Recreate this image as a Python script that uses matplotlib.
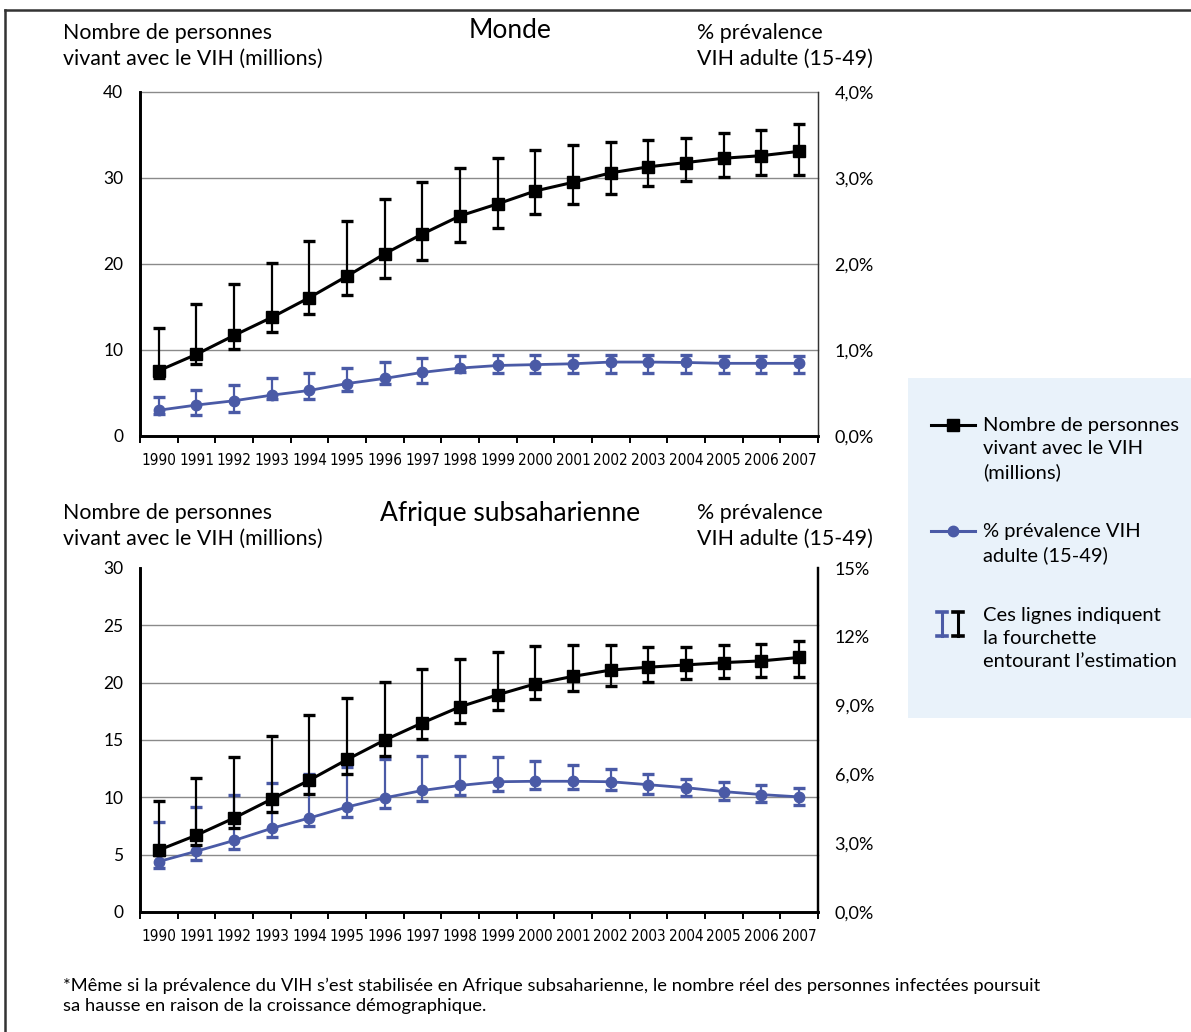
import matplotlib
matplotlib.use("Agg")
import matplotlib.pyplot as plt
from matplotlib.lines import Line2D
from matplotlib.patches import Rectangle
from matplotlib.transforms import blended_transform_factory
from matplotlib import font_manager as fm

# ---------------- data ----------------
years = ['1990', '1991', '1992', '1993', '1994', '1995', '1996', '1997', '1998',
         '1999', '2000', '2001', '2002', '2003', '2004', '2005', '2006', '2007']

world_hiv = [7.6, 9.5, 11.7, 13.8, 16.1, 18.6, 21.2, 23.5, 25.6, 27.0, 28.5, 29.5,
             30.6, 31.3, 31.8, 32.3, 32.6, 33.1]
world_hiv_low = [6.7, 8.4, 10.1, 12.1, 14.2, 16.4, 18.4, 20.5, 22.5, 24.2, 25.8, 27.0,
                 28.1, 29.1, 29.6, 30.1, 30.3, 30.4]
world_hiv_high = [12.6, 15.3, 17.7, 20.1, 22.7, 25.0, 27.5, 29.5, 31.2, 32.3, 33.2, 33.8,
                  34.2, 34.4, 34.7, 35.2, 35.6, 36.3]

world_prev = [0.30, 0.36, 0.41, 0.475, 0.53, 0.61, 0.67, 0.74, 0.79, 0.82, 0.83, 0.84,
              0.86, 0.86, 0.855, 0.845, 0.845, 0.845]
world_prev_low = [0.26, 0.25, 0.28, 0.43, 0.435, 0.525, 0.61, 0.62, 0.74, 0.73, 0.73, 0.73,
                  0.73, 0.73, 0.73, 0.73, 0.73, 0.73]
world_prev_high = [0.455, 0.535, 0.595, 0.67, 0.73, 0.79, 0.855, 0.905, 0.93, 0.945, 0.945,
                   0.945, 0.945, 0.94, 0.94, 0.935, 0.935, 0.935]

af_hiv = [5.4, 6.7, 8.2, 9.85, 11.5, 13.3, 15.0, 16.5, 17.9, 18.95, 19.9, 20.55, 21.1,
          21.35, 21.55, 21.75, 21.9, 22.2]
af_hiv_low = [4.95, 5.8, 7.3, 8.7, 10.3, 12.0, 13.6, 15.05, 16.5, 17.6, 18.55, 19.25, 19.7,
              20.05, 20.3, 20.4, 20.5, 20.5]
af_hiv_high = [9.65, 11.7, 13.5, 15.35, 17.15, 18.7, 20.05, 21.2, 22.1, 22.7, 23.2, 23.25,
               23.25, 23.1, 23.1, 23.25, 23.4, 23.6]

af_prev = [2.2, 2.65, 3.12, 3.65, 4.1, 4.58, 4.98, 5.3, 5.52, 5.68, 5.7, 5.7, 5.68, 5.55,
           5.42, 5.25, 5.12, 5.02]
af_prev_low = [1.9, 2.28, 2.75, 3.25, 3.75, 4.15, 4.55, 4.85, 5.1, 5.28, 5.35, 5.35, 5.3,
               5.15, 5.05, 4.9, 4.78, 4.65]
af_prev_high = [3.92, 4.6, 5.1, 5.62, 6.02, 6.32, 6.65, 6.8, 6.8, 6.75, 6.58, 6.42, 6.22,
                6.0, 5.8, 5.68, 5.52, 5.42]

world_left_ticks = [0, 10, 20, 30, 40]
world_right_ticks = [0, 1, 2, 3, 4]
world_right_labels = ['0,0%', '1,0%', '2,0%', '3,0%', '4,0%']
af_left_ticks = [0, 5, 10, 15, 20, 25, 30]
af_right_ticks = [0, 3, 6, 9, 12, 15]
af_right_labels = ['0,0%', '3,0%', '6,0%', '9,0%', '12%', '15%']

title_world = 'Monde'
title_africa = 'Afrique subsaharienne'
left_header = 'Nombre de personnes\nvivant avec le VIH (millions)'
right_header = '% prévalence\nVIH adulte (15-49)'
legend_hiv = 'Nombre de personnes\nvivant avec le VIH\n(millions)'
legend_prev = '% prévalence VIH\nadulte (15-49)'
legend_range = 'Ces lignes indiquent\nla fourchette\nentourant l\u2019estimation'
footnote = ('*Même si la prévalence du VIH s\u2019est stabilisée en Afrique subsaharienne, '
            'le nombre réel des personnes infectées poursuit\n'
            'sa hausse en raison de la croissance démographique.')

# ---------------- style ----------------
BLACK = '#000000'
BLUE = '#4a5aa6'
GRID = '#8a8a8a'
MAIN_FONT = ['Lato', 'DejaVu Sans']
plt.rcParams['font.family'] = MAIN_FONT

_entries = fm.fontManager.ttflist
_names = {f.name for f in _entries}
if 'Liberation Sans Narrow' in _names:
    XT_FONT = fm.FontProperties(family='Liberation Sans Narrow', size=12.5)
elif any(f.name == 'DejaVu Sans' and str(f.stretch) in ('condensed', 'semi-condensed')
         for f in _entries):
    XT_FONT = fm.FontProperties(family='DejaVu Sans', stretch='condensed', size=11)
else:
    XT_FONT = fm.FontProperties(family='Lato', size=11)

W, H = 1191, 1032
fig = plt.figure(figsize=(W / 100, H / 100), dpi=100)


def fx(px):
    return px / W


def fy(py):
    return 1 - py / H


def make_panel(top_px, hiv, lo, hi, prev, plo, phi, lticks, rticks, rlabels,
               top_line, right_color, right_lw):
    left, right, bottom = 140, 818, top_px + 344
    ax = fig.add_axes([fx(left), fy(bottom), fx(right - left), 344 / H])
    ax2 = ax.twinx()
    ax.set_zorder(ax2.get_zorder() + 1)
    ax.patch.set_visible(False)

    x = list(range(len(years)))
    ax.set_xlim(-0.5, len(years) - 0.5)
    ax.set_ylim(lticks[0], lticks[-1])
    ax2.set_ylim(rticks[0], rticks[-1])

    # horizontal grid following the left axis ticks, drawn below both series
    gtrans = blended_transform_factory(ax2.transAxes, ax.transData)
    for t in lticks[1:]:
        if t == lticks[-1] and not top_line:
            continue
        ax2.plot([0, 1], [t, t], color=GRID, lw=1.0, transform=gtrans, zorder=0,
                 clip_on=False)

    ax2.errorbar(x, prev, yerr=[[p - l for p, l in zip(prev, plo)],
                                [h - p for p, h in zip(prev, phi)]],
                 color=BLUE, lw=2.0, marker='o', ms=7.5, ecolor=BLUE,
                 elinewidth=1.6, capsize=4.2, capthick=2.4, zorder=3)
    ax.errorbar(x, hiv, yerr=[[v - l for v, l in zip(hiv, lo)],
                              [h - v for v, h in zip(hiv, hi)]],
                color=BLACK, lw=2.2, marker='s', ms=8.5, ecolor=BLACK,
                elinewidth=1.6, capsize=4.2, capthick=2.4, zorder=3)

    # x axis: boundaries as ticks, labels centred
    ax.set_xticks([i - 0.5 for i in range(len(years) + 1)])
    ax.set_xticklabels([])
    ax.set_xticks(x, minor=True)
    ax.set_xticklabels(years, minor=True, fontproperties=XT_FONT)
    ax.tick_params(axis='x', which='major', direction='out', length=5, width=1.4,
                   color=BLACK)
    ax.tick_params(axis='x', which='minor', length=0, pad=12)

    ax.set_yticks(lticks)
    ax.set_yticklabels([str(t) for t in lticks], fontsize=12.5)
    ax.tick_params(axis='y', length=0, pad=12)
    ax2.set_yticks(rticks)
    ax2.set_yticklabels(rlabels, fontsize=13)
    ax2.tick_params(axis='y', length=0, pad=12)

    for a in (ax, ax2):
        a.spines['left'].set_color(BLACK)
        a.spines['left'].set_linewidth(1.9)
        a.spines['bottom'].set_color(BLACK)
        a.spines['bottom'].set_linewidth(1.9)
        a.spines['right'].set_color(right_color)
        a.spines['right'].set_linewidth(right_lw)
        a.spines['top'].set_visible(False)
    return ax, ax2


make_panel(92, world_hiv, world_hiv_low, world_hiv_high, world_prev, world_prev_low,
           world_prev_high, world_left_ticks, world_right_ticks, world_right_labels,
           True, '#333333', 0.9)
make_panel(568, af_hiv, af_hiv_low, af_hiv_high, af_prev, af_prev_low, af_prev_high,
           af_left_ticks, af_right_ticks, af_right_labels, False, BLACK, 1.6)

# ---------------- headers ----------------
for head_top, title_y, title in ((23, 31, title_world), (503, 513, title_africa)):
    fig.text(fx(63), fy(head_top), left_header, ha='left', va='top', fontsize=15.4,
             linespacing=1.34)
    fig.text(fx(697), fy(head_top), right_header, ha='left', va='top', fontsize=15.4,
             linespacing=1.34)
    fig.text(fx(510), fy(title_y), title, ha='center', va='center', fontsize=19)

# ---------------- frame ----------------
fig.add_artist(Line2D([fx(5), fx(W)], [fy(10), fy(10)], color='#333333', lw=1.8,
                      transform=fig.transFigure))
fig.add_artist(Line2D([fx(5), fx(5)], [fy(10), fy(H)], color='#333333', lw=1.8,
                      transform=fig.transFigure))

# ---------------- legend panel ----------------
fig.add_artist(Rectangle((fx(908), fy(718)), fx(W - 908), (718 - 378) / H,
                         facecolor='#e9f2fa', edgecolor='none',
                         transform=fig.transFigure, zorder=0))
fig.add_artist(Line2D([fx(931), fx(975)], [fy(425), fy(425)], color=BLACK, lw=2.2,
                      transform=fig.transFigure))
fig.add_artist(Line2D([fx(953)], [fy(425)], color=BLACK, marker='s', ms=8.5,
                      ls='none', transform=fig.transFigure))
fig.add_artist(Line2D([fx(931), fx(975)], [fy(531), fy(531)], color=BLUE, lw=2.2,
                      transform=fig.transFigure))
fig.add_artist(Line2D([fx(953)], [fy(531)], color=BLUE, marker='o', ms=7.5,
                      ls='none', transform=fig.transFigure))
for xc, col in ((942, BLUE), (958, BLACK)):
    fig.add_artist(Line2D([fx(xc), fx(xc)], [fy(612), fy(636)], color=col, lw=2.2,
                          transform=fig.transFigure))
    for yc in (612, 636):
        fig.add_artist(Line2D([fx(xc - 5), fx(xc + 5)], [fy(yc), fy(yc)], color=col,
                              lw=2.6, transform=fig.transFigure))

fig.text(fx(983), fy(417), legend_hiv, ha='left', va='top', fontsize=14.5,
         linespacing=1.43)
fig.text(fx(983), fy(523), legend_prev, ha='left', va='top', fontsize=14.5,
         linespacing=1.43)
fig.text(fx(983), fy(607), legend_range, ha='left', va='top', fontsize=14.5,
         linespacing=1.43)

# ---------------- footnote ----------------
fig.text(fx(63), fy(978), footnote, ha='left', va='top', fontsize=13.2,
         linespacing=1.3)

fig.savefig('out.png', dpi=100, facecolor='white')
